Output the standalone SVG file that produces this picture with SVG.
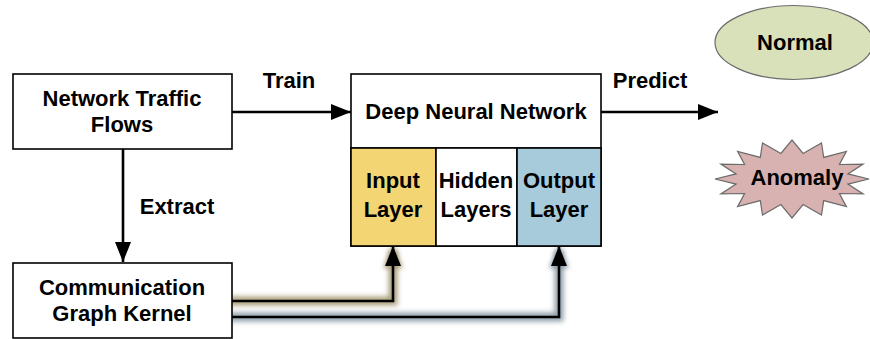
<svg xmlns="http://www.w3.org/2000/svg" width="870" height="339" viewBox="0 0 870 339">
  <style>
    .box { fill: #ffffff; stroke: #000000; stroke-width: 1.6; }
    .lbl { font-family: "Liberation Sans", Arial, sans-serif; font-weight: bold; font-size: 22px; fill: #000000; text-anchor: middle; }
    .wire { fill: none; stroke: #000000; stroke-width: 2.6; }
    .glow { fill: none; stroke-width: 9; stroke-linejoin: miter; filter: url(#soft); opacity: 0.85; }
  </style>
  <defs>
    <marker id="head" viewBox="0 0 20 16" refX="20" refY="8" markerWidth="20" markerHeight="16" markerUnits="userSpaceOnUse" orient="auto">
      <path d="M0,0 L20,8 L0,16 Z" fill="#000000"/>
    </marker>
    <filter id="soft" x="-20%" y="-20%" width="140%" height="140%">
      <feGaussianBlur stdDeviation="2.4"/>
    </filter>
  </defs>

  <!-- connectors -->
  <g id="connectors">
    <!-- soft halos under the kernel feeds -->
    <path class="glow" stroke="#9c8f66" d="M229,301 L393,301 L393,250"/>
    <path class="glow" stroke="#7f909c" d="M229,317 L559,317 L559,250"/>
    <path fill="#9c8f66" opacity="0.85" filter="url(#soft)" d="M383,268 L393,246 L403,268 Z"/>
    <path fill="#7f909c" opacity="0.85" filter="url(#soft)" d="M549,268 L559,246 L569,268 Z"/>
    <path class="wire" d="M232,112 L351,112" marker-end="url(#head)"/>
    <path class="wire" d="M601,112 L718,112" marker-end="url(#head)"/>
    <path class="wire" d="M123,149 L123,262" marker-end="url(#head)"/>
    <path class="wire" d="M232,301 L393,301 L393,246" marker-end="url(#head)"/>
    <path class="wire" d="M232,317 L559,317 L559,246" marker-end="url(#head)"/>
    <text class="lbl" x="289" y="88">Train</text>
    <text class="lbl" x="650" y="88">Predict</text>
    <text class="lbl" x="177" y="214">Extract</text>
  </g>

  <g id="traffic">
    <rect class="box" x="13" y="74" width="219" height="75"/>
    <text class="lbl" x="122" y="106">Network Traffic</text>
    <text class="lbl" x="122" y="132">Flows</text>
  </g>

  <g id="kernel">
    <rect class="box" x="13" y="263" width="219" height="75"/>
    <text class="lbl" x="122" y="295">Communication</text>
    <text class="lbl" x="122" y="321">Graph Kernel</text>
  </g>

  <g id="dnn">
    <rect class="box" x="351" y="74" width="250" height="172"/>
    <line x1="351" y1="148" x2="601" y2="148" stroke="#000" stroke-width="1.6"/>
    <text class="lbl" x="476" y="119">Deep Neural Network</text>
  </g>

  <g id="input-layer">
    <rect class="box" x="351" y="148" width="85" height="98" style="fill:#f3d573"/>
    <text class="lbl" x="393" y="188">Input</text>
    <text class="lbl" x="393" y="217">Layer</text>
  </g>

  <g id="hidden-layers">
    <rect class="box" x="436" y="148" width="81" height="98"/>
    <text class="lbl" x="476" y="188">Hidden</text>
    <text class="lbl" x="476" y="217">Layers</text>
  </g>

  <g id="output-layer">
    <rect class="box" x="517" y="148" width="84" height="98" style="fill:#a7cbda"/>
    <text class="lbl" x="559" y="188">Output</text>
    <text class="lbl" x="559" y="217">Layer</text>
  </g>

  <g id="normal">
    <ellipse cx="794" cy="42.5" rx="79" ry="37" fill="#d9e1bb" stroke="#6b6b6b" stroke-width="1.2"/>
    <text class="lbl" x="795" y="50">Normal</text>
  </g>

  <g id="anomaly">
    <polygon fill="#d8b2b0" stroke="#6b6b6b" stroke-width="1.2"
      points="869,179 847.9,184.1 863.1,193.9 839.4,193.5 846.4,206.6 823.7,200.6 821.5,215 803.1,204.5 792,218 780.9,204.5 762.5,215 760.3,200.6 737.6,206.6 744.6,193.5 720.9,193.9 736.1,184.1 715,179 736.1,173.9 720.9,164.1 744.6,164.5 737.6,151.4 760.3,157.4 762.5,143 780.9,153.5 792,140 803.1,153.5 821.5,143 823.7,157.4 846.4,151.4 839.4,164.5 863.1,164.1 847.9,173.9"/>
    <text class="lbl" x="797" y="185">Anomaly</text>
  </g>
</svg>
